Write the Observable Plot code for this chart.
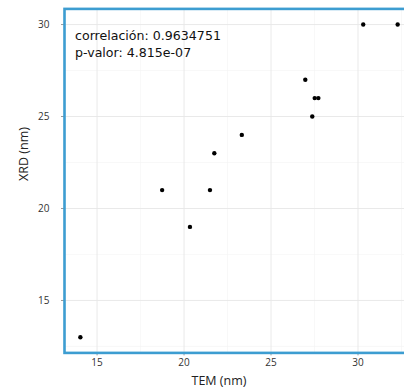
<!DOCTYPE html>
<html><head><meta charset="utf-8">
<script src="https://cdn.jsdelivr.net/npm/d3@7"></script>
<script src="https://cdn.jsdelivr.net/npm/@observablehq/plot@0.6"></script>
<style>
html,body{margin:0;padding:0;background:#fff;overflow:hidden;width:404px;height:391px}
#chart{width:404px;height:391px;overflow:hidden}
#chart svg{max-width:none !important}
</style></head><body><div id="chart"></div>
<script>
const tem = [14.04, 18.74, 20.34, 21.49, 21.74, 23.32, 26.97, 27.37, 27.51, 27.72, 30.3, 32.28];
const xrd = [13, 21, 19, 21, 23, 24, 27, 25, 26, 26, 30, 30];
const xTicks = [15, 20, 25, 30];
const yTicks = [15, 20, 25, 30];
const xMinor = [17.5, 22.5, 27.5, 32.5];
const yMinor = [12.5, 17.5, 22.5, 27.5];
const annotation = ["correlación: 0.9634751", "p-valor: 4.815e-07"];
const xLabel = "TEM (nm)";
const yLabel = "XRD (nm)";

const data = tem.map((t, i) => ({tem: t, xrd: xrd[i]}));
const font = "'Open Sans', sans-serif";
const annFont = "'DejaVu Sans', sans-serif";

const chart = Plot.plot({
  width: 413,
  height: 391,
  marginLeft: 64,
  marginRight: 0,
  marginTop: 8.4,
  marginBottom: 38.6,
  style: {fontFamily: font, background: "#fff", overflow: "hidden", maxWidth: "none"},
  x: {domain: [13.128, 33.19]},
  y: {domain: [12.15, 30.85]},
  marks: [
    Plot.gridX(xMinor, {stroke: "#f3f3f3", strokeOpacity: 1, strokeWidth: 0.6}),
    Plot.gridY(yMinor, {stroke: "#f3f3f3", strokeOpacity: 1, strokeWidth: 0.6}),
    Plot.gridX(xTicks, {stroke: "#e6e6e6", strokeOpacity: 1, strokeWidth: 0.9}),
    Plot.gridY(yTicks, {stroke: "#e6e6e6", strokeOpacity: 1, strokeWidth: 0.9}),
    Plot.axisX(xTicks, {label: null, tickSize: 3, tickPadding: 3, stroke: "#9a9a9a", fill: "#333", fontSize: 10}),
    Plot.axisY(yTicks, {label: null, tickSize: 3, tickPadding: 12, stroke: "#9a9a9a", fill: "#333", fontSize: 10}),
    Plot.frame({stroke: "#3d9dd1", strokeWidth: 2.6}),
    Plot.dot(data, {x: "tem", y: "xrd", r: 2.2, fill: "black", stroke: "none"}),
    Plot.text([annotation.join("\n")], {frameAnchor: "top-left", dx: 10.5, dy: 18.5, textAnchor: "start", lineAnchor: "top", lineHeight: 1.36, fontSize: 12.6, fill: "#111", fontFamily: annFont}),
    Plot.text([xLabel], {frameAnchor: "bottom", dx: -20, dy: 32, fontSize: 12.5, fill: "#222", fontFamily: font}),
    Plot.text([yLabel], {frameAnchor: "left", dx: -40.5, rotate: -90, fontSize: 12.5, fill: "#222", fontFamily: font})
  ]
});
document.getElementById("chart").appendChild(chart);
</script></body></html>
